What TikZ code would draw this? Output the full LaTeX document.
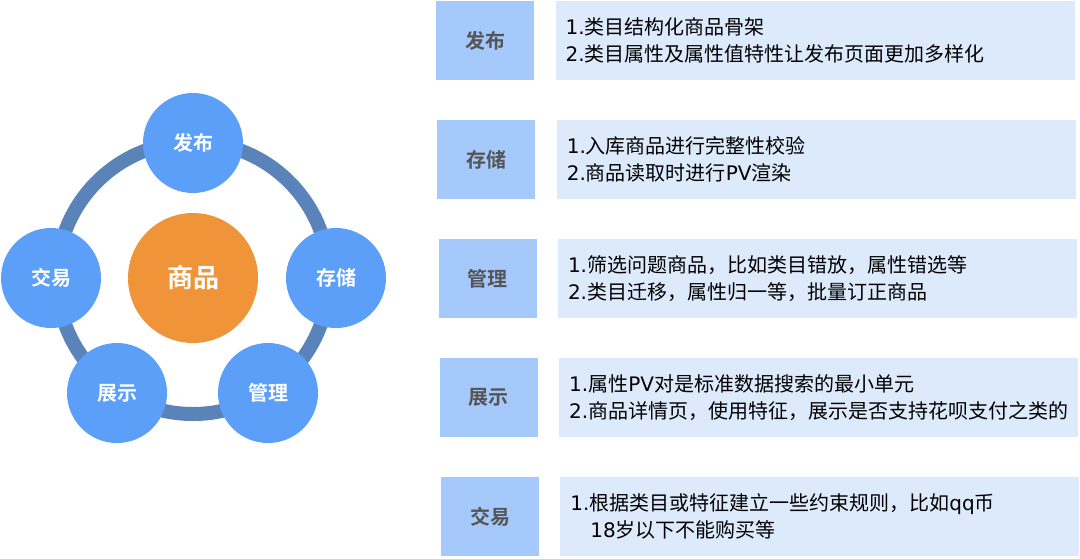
\documentclass[tikz,border=0pt]{standalone}
\usepackage{fontspec}
\setmainfont{Noto Sans CJK SC}[BoldFont={Noto Sans CJK SC Bold}]
\newfontfamily\latfont{DejaVu Sans}
\newcommand{\lat}[1]{{\latfont #1}}
\usetikzlibrary{positioning}
\definecolor{satblue}{HTML}{5B9FF8}
\definecolor{ringblue}{HTML}{5A83BA}
\definecolor{huborange}{HTML}{F0943A}
\definecolor{labfill}{HTML}{A6C9FC}
\definecolor{txtfill}{HTML}{DDEAFC}
\definecolor{muted}{HTML}{555555}

\begin{document}
\begin{tikzpicture}[x=1pt, y=-1pt,
  sat/.style={circle, fill=satblue, minimum size=100pt, inner sep=0, text=white,
              font=\bfseries\fontsize{20}{20}\selectfont},
  hub/.style={circle, fill=huborange, minimum size=130pt, inner sep=0, text=white,
              font=\bfseries\fontsize{26}{26}\selectfont},
  ring/.style={draw=ringblue, line width=14pt},
  lab/.style={fill=labfill, minimum width=98pt, minimum height=79pt, inner sep=0,
              text=muted, font=\bfseries\fontsize{20}{20}\selectfont},
  txt/.style={fill=txtfill, minimum height=79pt, text width=499pt, inner xsep=10pt,
              inner ysep=0, align=left, font=\fontsize{20}{27}\selectfont}]
\useasboundingbox (0,0) rectangle (1080,558);
% ring of stages round the hub
\coordinate (mid) at (193,278);
\draw[ring] (mid) circle[radius=136pt];
\node[hub] (goods) at (mid) {商品};
\node[sat] (fabu) at (193,143) {发布};
\node[sat] (cunchu) at (336,278) {存储};
\node[sat] (guanli) at (268,393) {管理};
\node[sat] (zhanshi) at (117,393) {展示};
\node[sat] (jiaoyi) at (51,278) {交易};
% one row per stage
\foreach \i/\t/\body in {
  0/发布/{\lat{1.}类目结构化商品骨架\\\lat{2.}类目属性及属性值特性让发布页面更加多样化},
  1/存储/{\lat{1.}入库商品进行完整性校验\\\lat{2.}商品读取时进行\lat{PV}渲染},
  2/管理/{\lat{1.}筛选问题商品，比如类目错放，属性错选等\\\lat{2.}类目迁移，属性归一等，批量订正商品},
  3/展示/{\lat{1.}属性\lat{PV}对是标准数据搜索的最小单元\\\lat{2.}商品详情页，使用特征，展示是否支持花呗支付之类的},
  4/交易/{\lat{1.}根据类目或特征建立一些约束规则，比如\lat{qq}币\\\hspace*{1em}\lat{18}岁以下不能购买等}} {
  \node[lab, anchor=north west] (lab\i) at (436+\i*1.2, 1+\i*119) {\t};
  \node[txt, right=21pt of lab\i] (txt\i) {\body};
}
\end{tikzpicture}
\end{document}
